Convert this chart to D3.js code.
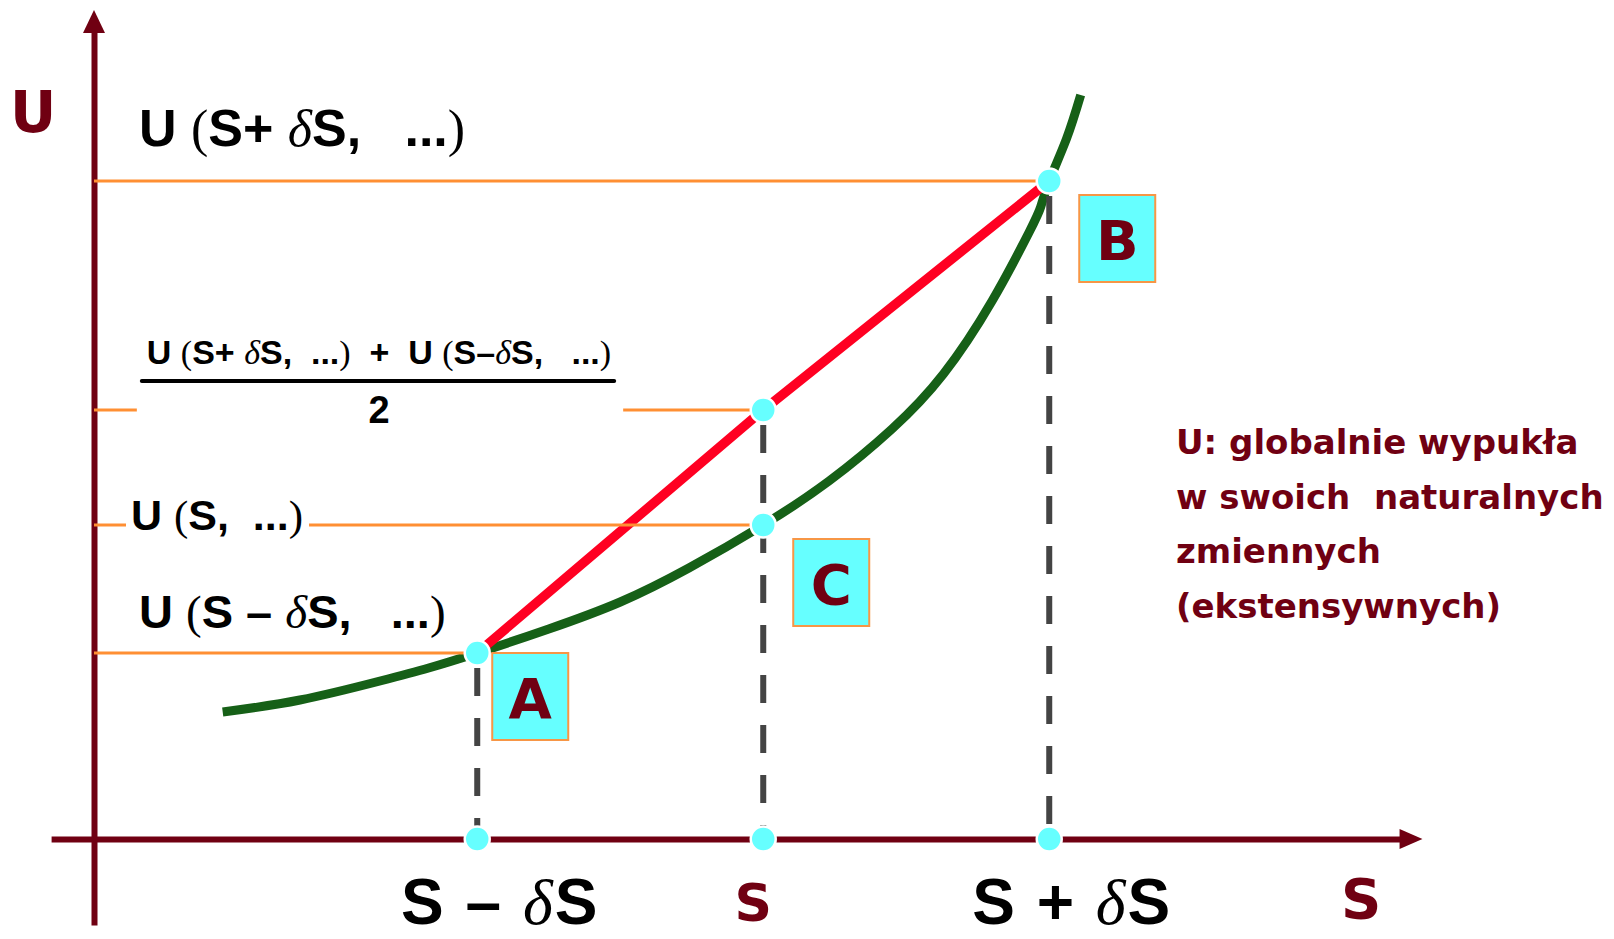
<!DOCTYPE html>
<html>
<head>
<meta charset="utf-8">
<script src="https://cdn.jsdelivr.net/npm/d3@7"></script>
<style>
  body { margin: 0; background: #fff; overflow: hidden; }
  svg text { white-space: pre; }
</style>
</head>
<body>
<div id="chart"></div>
<script>
// green curve U(S) (S in units of dS, U in arbitrary units)
var curveS = [0.45, 0.72, 1.00, 1.17, 1.34, 1.59, 1.84, 2.08, 2.34, 2.57, 2.79, 2.97, 3.14, 3.27, 3.31, 3.34, 3.40, 3.45];
var curveU = [1.27, 1.39, 1.58, 1.71, 1.86, 2.10, 2.37, 2.71, 3.14, 3.58, 4.10, 4.65, 5.38, 6.07, 6.32, 6.58, 7.00, 7.44];

// the three states A, C, B on the curve
var pointNames = ["A", "C", "B"];
var pointS = [1.34, 2.34, 3.34];
var pointU = [1.86, 3.14, 6.58];

// red chord from A to B, with its middle point above C
var chordS = [1.34, 2.34, 3.34];
var chordU = [1.86, 4.29, 6.58];

// labels
var tickLabels = ["S – δS", "S", "S + δS"];
var guideLabels = ["U (S – δS,   ...)", "U (S,  ...)", "U (S+ δS,   ...)"];
var fracTop = "U (S+ δS,  ...)  +  U (S–δS,   ...)";
var fracBottom = "2";
var noteLines = ["U: globalnie wypukła", "w swoich  naturalnych", "zmiennych", "(ekstensywnych)"];

var maroon = "#700012";
var orange = "#ff8f33";
var cyan = "#66ffff";
var sans = "'Liberation Sans', Arial, sans-serif";
var serif = "'Liberation Serif', 'Times New Roman', serif";
var tahoma = "'DejaVu Sans', Verdana, sans-serif";

var svg = d3.select("#chart")
  .append("svg")
  .attr("width", 1614)
  .attr("height", 939);

// one dS is 286px, one U unit is 100px
var xScale = d3.scaleLinear().domain([0, 1]).range([94, 380]);
var yScale = d3.scaleLinear().domain([0, 1]).range([839, 739]);

// rich text: delta in italic serif, parens in serif, rest bold sans
function richText(sel, str) {
  var runs = [];
  str.split("").forEach(function(ch) {
    var kind = ch === "δ" ? "greek" : (ch === "(" || ch === ")") ? "paren" : "plain";
    if (runs.length && runs[runs.length - 1].kind === kind) runs[runs.length - 1].text += ch;
    else runs.push({kind: kind, text: ch});
  });
  sel.selectAll("tspan")
    .data(runs)
    .enter()
    .append("tspan")
    .attr("font-family", function(d) { return d.kind === "plain" ? sans : serif; })
    .attr("font-weight", function(d) { return d.kind === "plain" ? "bold" : "normal"; })
    .attr("font-style", function(d) { return d.kind === "greek" ? "italic" : "normal"; })
    .text(function(d) { return d.text; });
}

// axes
var xAxisScale = d3.scaleLinear().domain([-0.15, 4.57]).range([xScale(-0.15), xScale(4.57)]);
var yAxisScale = d3.scaleLinear().domain([-0.86, 8.07]).range([yScale(-0.86), yScale(8.07)]);

var xAxis = d3.axisBottom(xAxisScale).tickValues([]).tickSizeOuter(0);
var yAxis = d3.axisLeft(yAxisScale).tickValues([]).tickSizeOuter(0);

svg.append("g").attr("transform", "translate(0," + yScale(0) + ")").call(xAxis)
  .select(".domain").attr("stroke", maroon).attr("stroke-width", 6);
svg.append("g").attr("transform", "translate(" + xScale(0) + ",0)").call(yAxis)
  .select(".domain").attr("stroke", maroon).attr("stroke-width", 6);

// arrow heads
svg.append("path")
  .attr("d", "M" + xScale(0) + "," + yScale(8.29) + "L" + (xScale(0) - 11) + "," + yScale(8.06) +
             "L" + (xScale(0) + 11) + "," + yScale(8.06) + "Z")
  .attr("fill", maroon);
svg.append("path")
  .attr("d", "M" + xScale(4.645) + "," + yScale(0) + "L" + xScale(4.565) + "," + (yScale(0) - 10) +
             "L" + xScale(4.565) + "," + (yScale(0) + 10) + "Z")
  .attr("fill", maroon);

// axis names
svg.append("text").attr("x", 10).attr("y", 132)
  .attr("font-family", tahoma).attr("font-weight", "bold").attr("font-size", 57)
  .attr("fill", maroon).text("U");
svg.append("text").attr("x", 1341).attr("y", 918)
  .attr("font-family", tahoma).attr("font-weight", "bold").attr("font-size", 56)
  .attr("fill", maroon).text("S");

// green curve
var curveData = curveS.map(function(s, i) { return [s, curveU[i]]; });
var line = d3.line()
  .x(function(d) { return xScale(d[0]); })
  .y(function(d) { return yScale(d[1]); })
  .curve(d3.curveNatural);

svg.append("path")
  .datum(curveData)
  .attr("d", line)
  .attr("fill", "none")
  .attr("stroke", "#166017")
  .attr("stroke-width", 9);

// red chord
var chordData = chordS.map(function(s, i) { return [s, chordU[i]]; });
svg.append("path")
  .datum(chordData)
  .attr("d", d3.line().x(function(d) { return xScale(d[0]); }).y(function(d) { return yScale(d[1]); }))
  .attr("fill", "none")
  .attr("stroke", "#ff0022")
  .attr("stroke-width", 9.5);

// guide labels on the left
var labelGroup = svg.append("g");
var lblA = labelGroup.append("text").attr("x", 139).attr("y", yScale(pointU[0]) - 25).attr("font-size", 47);
richText(lblA, guideLabels[0]);
var lblC = labelGroup.append("text").attr("x", 131).attr("y", yScale(pointU[1]) + 5).attr("font-size", 43);
richText(lblC, guideLabels[1]);
var lblB = labelGroup.append("text").attr("x", 139).attr("y", yScale(pointU[2]) - 35).attr("font-size", 52);
richText(lblB, guideLabels[2]);

// fraction label for the chord middle
var midY = yScale(chordU[1]);
var fracX = 379;
var num = labelGroup.append("text").attr("x", fracX).attr("y", midY - 46)
  .attr("text-anchor", "middle").attr("font-size", 34);
richText(num, fracTop);
var numBox = num.node().getBBox();
var barX0 = numBox.x - 5, barX1 = numBox.x + numBox.width + 3;
labelGroup.append("line")
  .attr("x1", barX0).attr("x2", barX1)
  .attr("y1", midY - 29).attr("y2", midY - 29)
  .attr("stroke", "#000").attr("stroke-width", 4).attr("stroke-linecap", "round");
var den = labelGroup.append("text").attr("x", fracX).attr("y", midY + 13)
  .attr("text-anchor", "middle").attr("font-size", 38);
richText(den, fracBottom);

// orange guide lines
var cBox = lblC.node().getBBox();
var guides = [
  [xScale(0), xScale(pointS[0]), yScale(pointU[0])],
  [xScale(0), cBox.x - 5, yScale(pointU[1])],
  [cBox.x + cBox.width + 6, xScale(pointS[1]), yScale(pointU[1])],
  [xScale(0), barX0 - 5, midY],
  [barX1 + 9, xScale(chordS[1]), midY],
  [xScale(0), xScale(pointS[2]), yScale(pointU[2])]
];
svg.selectAll(".guide")
  .data(guides)
  .enter()
  .append("line")
  .attr("class", "guide")
  .attr("x1", function(d) { return d[0]; })
  .attr("x2", function(d) { return d[1]; })
  .attr("y1", function(d) { return d[2]; })
  .attr("y2", function(d) { return d[2]; })
  .attr("stroke", orange)
  .attr("stroke-width", 3);

// dashed drop lines
var dropTop = [pointU[0], chordU[1], pointU[2]];
svg.selectAll(".drop")
  .data(pointS)
  .enter()
  .append("line")
  .attr("class", "drop")
  .attr("x1", function(d) { return xScale(d); })
  .attr("x2", function(d) { return xScale(d); })
  .attr("y1", function(d, i) { return yScale(dropTop[i]); })
  .attr("y2", yScale(0))
  .attr("stroke", "#444")
  .attr("stroke-width", 6)
  .attr("stroke-dasharray", "28,22")
  .attr("stroke-dashoffset", 35);

// cyan dots
var dots = [];
pointS.forEach(function(s, i) {
  dots.push([s, pointU[i]]);
  dots.push([s, 0]);
});
dots.push([chordS[1], chordU[1]]);
svg.selectAll(".dot")
  .data(dots)
  .enter()
  .append("circle")
  .attr("class", "dot")
  .attr("cx", function(d) { return xScale(d[0]); })
  .attr("cy", function(d) { return yScale(d[1]); })
  .attr("r", 12.5)
  .attr("fill", cyan)
  .attr("stroke", "#fff")
  .attr("stroke-width", 2.5);

// boxed letters
var boxOffset = [[15, 0], [30, 14], [30, 14]];
var boxes = svg.selectAll(".box")
  .data(pointNames)
  .enter()
  .append("g")
  .attr("class", "box")
  .attr("transform", function(d, i) {
    return "translate(" + (xScale(pointS[i]) + boxOffset[i][0]) + "," + (yScale(pointU[i]) + boxOffset[i][1]) + ")";
  });
boxes.append("rect")
  .attr("width", 76).attr("height", 87)
  .attr("fill", cyan).attr("stroke", "#f79646").attr("stroke-width", 2);
boxes.append("text")
  .attr("x", 38).attr("y", 65)
  .attr("text-anchor", "middle")
  .attr("font-family", tahoma).attr("font-weight", "bold").attr("font-size", 56)
  .attr("fill", maroon)
  .text(function(d) { return d; });

// labels under the x axis
var tickDx = [23, -10, 23];
tickLabels.forEach(function(t, i) {
  var el = svg.append("text")
    .attr("x", xScale(pointS[i]) + tickDx[i])
    .attr("text-anchor", "middle");
  if (i === 1) {
    el.attr("y", 921).attr("font-family", tahoma).attr("font-weight", "bold")
      .attr("font-size", 52).attr("fill", maroon).text(t);
  } else {
    el.attr("y", 924).attr("font-size", 64).attr("letter-spacing", 2);
    richText(el, t);
  }
});

// note on the right
svg.append("g").selectAll("text")
  .data(noteLines)
  .enter()
  .append("text")
  .attr("x", 1176)
  .attr("y", function(d, i) { return 454 + i * 54.5; })
  .attr("font-family", tahoma)
  .attr("font-weight", "bold")
  .attr("font-size", 34)
  .attr("fill", maroon)
  .text(function(d) { return d; });
</script>
</body>
</html>
